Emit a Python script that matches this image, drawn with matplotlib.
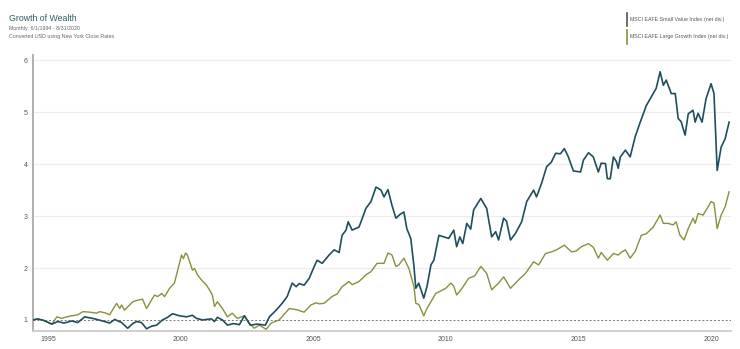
import matplotlib.pyplot as plt

plt.rcParams['font.family'] = ['Liberation Sans', 'DejaVu Sans']

# growth of $1, dates as decimal years
sv_dates = [1994.44, 1994.62, 1994.85, 1995.15, 1995.38, 1995.60, 1995.90, 1996.13, 1996.39, 1996.77,
            1997.14, 1997.33, 1997.52, 1997.78, 1998.01, 1998.20, 1998.35, 1998.53, 1998.72, 1998.91,
            1999.10, 1999.32, 1999.51, 1999.70, 1999.96, 2000.23, 2000.45, 2000.60, 2000.83, 2000.98,
            2001.17, 2001.28, 2001.39, 2001.58, 2001.77, 2001.99, 2002.22, 2002.41, 2002.63, 2002.89,
            2003.20, 2003.35, 2003.61, 2003.83, 2004.02, 2004.21, 2004.36, 2004.47, 2004.66, 2004.85,
            2005.04, 2005.15, 2005.34, 2005.60, 2005.79, 2005.98, 2006.09, 2006.24, 2006.32, 2006.47,
            2006.73, 2006.99, 2007.18, 2007.37, 2007.56, 2007.67, 2007.82, 2007.97, 2008.12, 2008.27,
            2008.42, 2008.53, 2008.68, 2008.80, 2008.87, 2008.98, 2009.17, 2009.29, 2009.44, 2009.55,
            2009.74, 2009.92, 2010.11, 2010.30, 2010.41, 2010.53, 2010.64, 2010.79, 2010.94, 2011.05,
            2011.32, 2011.54, 2011.73, 2011.88, 2011.99, 2012.18, 2012.29, 2012.44, 2012.63, 2012.86,
            2013.05, 2013.31, 2013.42, 2013.61, 2013.80, 2013.98, 2014.14, 2014.32, 2014.47, 2014.62,
            2014.81, 2015.08, 2015.19, 2015.38, 2015.56, 2015.75, 2015.86, 2016.02, 2016.09, 2016.20,
            2016.32, 2016.43, 2016.50, 2016.58, 2016.77, 2016.95, 2017.14, 2017.33, 2017.56, 2017.74,
            2017.93, 2018.08, 2018.20, 2018.31, 2018.50, 2018.65, 2018.76, 2018.87, 2019.02, 2019.14,
            2019.32, 2019.40, 2019.51, 2019.66, 2019.81, 2020.00, 2020.11, 2020.23, 2020.38, 2020.53,
            2020.68]
small_value = [1.00, 1.02, 0.99, 0.92, 0.97, 0.94, 0.98, 0.95, 1.06, 1.02,
               0.97, 0.94, 1.01, 0.95, 0.84, 0.93, 0.97, 0.95, 0.83, 0.88,
               0.90, 1.00, 1.05, 1.12, 1.08, 1.06, 1.09, 1.03, 1.00, 1.01,
               1.02, 0.97, 1.05, 1.00, 0.90, 0.93, 0.91, 1.08, 0.90, 0.92,
               0.90, 1.06, 1.19, 1.32, 1.45, 1.71, 1.64, 1.70, 1.67, 1.80,
               2.03, 2.15, 2.09, 2.25, 2.35, 2.30, 2.63, 2.73, 2.89, 2.73,
               2.79, 3.15, 3.28, 3.56, 3.50, 3.37, 3.51, 3.21, 2.96, 3.03,
               3.08, 2.76, 2.57, 2.03, 1.61, 1.71, 1.42, 1.64, 2.06, 2.15,
               2.63, 2.60, 2.57, 2.73, 2.41, 2.60, 2.47, 2.86, 2.75, 3.12,
               3.34, 3.15, 2.60, 2.70, 2.54, 2.96, 2.90, 2.54, 2.67, 2.89,
               3.28, 3.50, 3.37, 3.63, 3.95, 4.04, 4.21, 4.20, 4.30, 4.14,
               3.87, 3.85, 4.08, 4.22, 4.14, 3.85, 4.02, 4.01, 3.72, 3.72,
               4.14, 4.05, 3.92, 4.14, 4.27, 4.14, 4.53, 4.81, 5.13, 5.29,
               5.46, 5.78, 5.52, 5.62, 5.36, 5.36, 4.88, 4.82, 4.56, 4.97,
               5.04, 4.81, 4.98, 4.81, 5.26, 5.55, 5.36, 3.88, 4.33, 4.49,
               4.81]

lg_dates = [1994.44, 1994.62, 1994.85, 1995.15, 1995.34, 1995.53, 1995.71, 1995.90, 1996.13, 1996.32,
            1996.58, 1996.84, 1996.95, 1997.14, 1997.33, 1997.59, 1997.71, 1997.78, 1997.89, 1998.20,
            1998.38, 1998.57, 1998.72, 1999.02, 1999.14, 1999.29, 1999.40, 1999.59, 1999.77, 1999.96,
            2000.04, 2000.11, 2000.19, 2000.26, 2000.45, 2000.53, 2000.64, 2000.79, 2000.98, 2001.09,
            2001.20, 2001.28, 2001.39, 2001.58, 2001.77, 2001.95, 2002.14, 2002.41, 2002.59, 2002.78,
            2002.97, 2003.23, 2003.42, 2003.72, 2004.10, 2004.36, 2004.66, 2004.92, 2005.11, 2005.23,
            2005.41, 2005.71, 2005.90, 2006.09, 2006.35, 2006.47, 2006.73, 2006.99, 2007.18, 2007.41,
            2007.67, 2007.82, 2007.97, 2008.12, 2008.23, 2008.42, 2008.61, 2008.80, 2008.87, 2008.98,
            2009.17, 2009.29, 2009.44, 2009.62, 2010.00, 2010.19, 2010.30, 2010.41, 2010.60, 2010.86,
            2011.09, 2011.32, 2011.54, 2011.73, 2011.99, 2012.18, 2012.44, 2012.74, 2013.01, 2013.31,
            2013.50, 2013.76, 2013.98, 2014.17, 2014.47, 2014.74, 2014.92, 2015.11, 2015.38, 2015.56,
            2015.75, 2015.86, 2016.09, 2016.32, 2016.50, 2016.58, 2016.77, 2016.95, 2017.14, 2017.37,
            2017.56, 2017.82, 2018.08, 2018.20, 2018.38, 2018.57, 2018.68, 2018.83, 2018.98, 2019.14,
            2019.32, 2019.40, 2019.51, 2019.70, 2019.89, 2020.00, 2020.11, 2020.23, 2020.38, 2020.53,
            2020.68]
large_growth = [1.00, 1.02, 0.99, 0.92, 1.06, 1.03, 1.06, 1.08, 1.10, 1.16,
                1.15, 1.13, 1.16, 1.14, 1.10, 1.32, 1.22, 1.29, 1.19, 1.35,
                1.38, 1.40, 1.22, 1.48, 1.45, 1.51, 1.45, 1.61, 1.71, 2.09,
                2.25, 2.18, 2.29, 2.25, 1.96, 1.99, 1.87, 1.77, 1.67, 1.58,
                1.48, 1.26, 1.35, 1.22, 1.06, 1.13, 1.03, 1.08, 0.94, 0.84,
                0.90, 0.82, 0.94, 1.00, 1.22, 1.20, 1.15, 1.29, 1.33, 1.31,
                1.32, 1.45, 1.50, 1.64, 1.74, 1.68, 1.74, 1.87, 1.93, 2.09,
                2.09, 2.29, 2.25, 2.03, 2.06, 2.19, 1.99, 1.64, 1.32, 1.30,
                1.08, 1.22, 1.35, 1.51, 1.61, 1.71, 1.65, 1.48, 1.60, 1.80,
                1.85, 2.03, 1.90, 1.58, 1.71, 1.83, 1.61, 1.77, 1.90, 2.12,
                2.06, 2.28, 2.31, 2.35, 2.44, 2.31, 2.33, 2.41, 2.47, 2.40,
                2.19, 2.30, 2.15, 2.28, 2.25, 2.29, 2.35, 2.19, 2.32, 2.63,
                2.66, 2.79, 3.02, 2.86, 2.86, 2.83, 2.89, 2.63, 2.54, 2.76,
                2.96, 2.86, 3.05, 3.02, 3.18, 3.28, 3.25, 2.76, 3.02, 3.18,
                3.47]

series_names = ['MSCI EAFE Small Value Index (net div.)', 'MSCI EAFE Large Growth Index (net div.)']
x_ticks = [1995, 2000, 2005, 2010, 2015, 2020]
y_ticks = [1, 2, 3, 4, 5, 6]

teal = '#1f4f5c'
olive = '#8a8f3c'

fig = plt.figure(figsize=(7.4, 3.49), dpi=100)
ax = fig.add_axes([0.0446, 0.052, 0.9432, 0.79])

ax.plot(sv_dates, small_value, color=teal, lw=1.2, zorder=3)
ax.plot(lg_dates, large_growth, color=olive, lw=1.0, zorder=2)

ax.set_xlim(1994.44, 2020.75)
ax.set_ylim(0.79, 6.1)

# light grid above 1, dotted baseline at 1
for v in y_ticks[1:]:
    ax.axhline(v, color='#ececec', lw=0.8, zorder=0)
ax.axhline(1, color='#777777', lw=0.7, ls=(0, (2, 2)), zorder=1)

ax.set_xticks(x_ticks)
ax.set_yticks(y_ticks)
ax.tick_params(length=0, labelsize=5, labelcolor='#555555', pad=4)
for s in ['top', 'right']:
    ax.spines[s].set_visible(False)
ax.spines['left'].set_color('#aaaaaa')
ax.spines['left'].set_linewidth(1.3)
ax.spines['bottom'].set_color('#cccccc')
ax.spines['bottom'].set_linewidth(1.3)

fig.text(0.012, 0.948, 'Growth of Wealth', fontsize=6.3, color='#2e5b66', va='center')
fig.text(0.012, 0.917, 'Monthly: 6/1/1994 - 8/31/2020', fontsize=3.8, color='#666666', va='center')
fig.text(0.012, 0.894, 'Converted USD using New York Close Rates', fontsize=3.8, color='#666666', va='center')

# legend as colored bars with labels
for i, (name, c) in enumerate(zip(series_names, ['#555555', olive])):
    y0 = 0.925 - i * 0.05
    fig.add_artist(plt.Line2D([0.847, 0.847], [y0, y0 + 0.038], color=c, lw=1.2))
    fig.text(0.851, y0 + 0.019, name, fontsize=3.8, color='#555555', va='center')

fig.savefig('out.png', dpi=100)
